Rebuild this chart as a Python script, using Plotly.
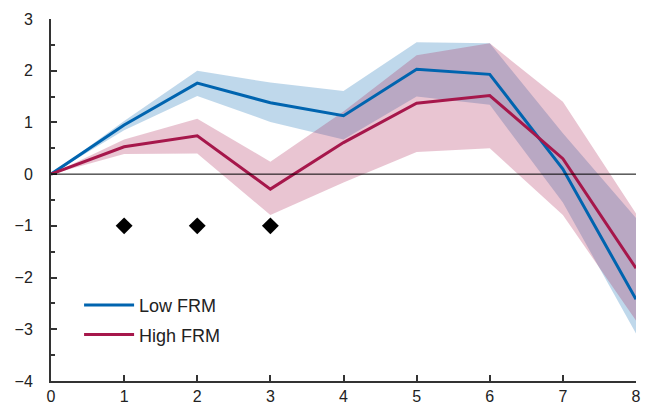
import plotly.graph_objects as go

periods = [0, 1, 2, 3, 4, 5, 6, 7, 8]
x_ticks = [0, 1, 2, 3, 4, 5, 6, 7, 8]
y_ticks = [3, 2, 1, 0, -1, -2, -3, -4]
y_tick_labels = ["3", "2", "1", "0", "\u22121", "\u22122", "\u22123", "\u22124"]

low_mid = [0, 0.95, 1.76, 1.38, 1.13, 2.03, 1.93, 0.10, -2.42]
low_upper = [0, 1.03, 2.00, 1.77, 1.61, 2.55, 2.53, 0.79, -0.85]
low_lower = [0, 0.85, 1.51, 1.01, 0.67, 1.50, 1.34, -0.55, -3.08]

high_mid = [0, 0.53, 0.74, -0.29, 0.61, 1.37, 1.52, 0.30, -1.82]
high_upper = [0, 0.67, 1.07, 0.24, 1.21, 2.30, 2.53, 1.40, -0.76]
high_lower = [0, 0.39, 0.40, -0.79, -0.16, 0.43, 0.50, -0.79, -2.83]

sig_x = [1, 2, 3]
sig_y = [-1, -1, -1]

BLUE = "rgb(0,100,175)"
RED = "rgb(166,23,75)"
FONT = "Liberation Sans, Arial, sans-serif"
Y_RANGE = [-4, 3]

fig = go.Figure()

fig.add_trace(go.Scatter(
    x=periods + periods[::-1], y=low_upper + low_lower[::-1],
    fill="toself", fillcolor="rgba(0,100,175,0.25)",
    line=dict(width=0), mode="lines", showlegend=False, hoverinfo="skip"))
fig.add_trace(go.Scatter(
    x=periods + periods[::-1], y=high_upper + high_lower[::-1],
    fill="toself", fillcolor="rgba(166,23,75,0.25)",
    line=dict(width=0), mode="lines", showlegend=False, hoverinfo="skip"))

fig.add_trace(go.Scatter(x=periods, y=low_mid, mode="lines", name="Low FRM",
                         legendgroup="low", line=dict(color=BLUE, width=3)))
fig.add_trace(go.Scatter(x=periods, y=high_mid, mode="lines", name="High FRM",
                         legendgroup="high", line=dict(color=RED, width=3)))

fig.add_trace(go.Scatter(x=sig_x, y=sig_y, mode="markers", showlegend=False,
                         yaxis="y2",
                         marker=dict(symbol="diamond", size=13, color="black")))

fig.add_hline(y=0, line=dict(color="black", width=1))

fig.update_layout(
    width=645, height=407,
    margin=dict(l=51, r=9, t=19, b=26, autoexpand=False),
    paper_bgcolor="white", plot_bgcolor="white",
    font=dict(family=FONT, size=16, color="#222"),
    showlegend=True,
    legend=dict(x=0.048, y=0.26, xanchor="left", yanchor="top",
                bgcolor="rgba(0,0,0,0)", font=dict(size=18),
                itemwidth=50, tracegroupgap=3),
    yaxis2=dict(overlaying="y", side="left", range=Y_RANGE, tickvals=y_ticks,
                ticktext=y_tick_labels, showgrid=False, zeroline=False,
                automargin=False, showline=False, ticks="outside", ticklen=14,
                tickcolor="rgba(0,0,0,0)"),
)
fig.update_xaxes(range=[0, 8], tickvals=x_ticks, showgrid=False, zeroline=False,
                 automargin=False,
                 showline=True, linecolor="#333", linewidth=1.5,
                 ticks="inside", ticklen=6, tickcolor="#333", tickwidth=1.5)
fig.update_layout(yaxis=dict(range=Y_RANGE, tickvals=y_ticks, showticklabels=False,
                             showgrid=False, zeroline=False, automargin=False,
                             showline=True, linecolor="#333", linewidth=1.5,
                             ticks="inside", ticklen=6, tickcolor="#333", tickwidth=1.5,
                             minor=dict(dtick=0.5, ticks="inside", ticklen=4,
                                        tickcolor="#333", tickwidth=1.5)))

fig.write_html("out.html", config={"displayModeBar": False},
               post_script="document.body.style.margin='0';document.body.style.overflow='hidden';")
